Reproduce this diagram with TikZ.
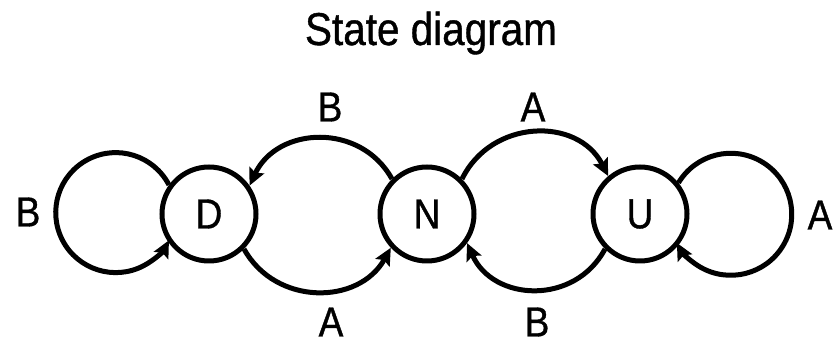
\documentclass[tikz,border=0pt]{standalone}
\usepackage{fontspec}
\setmainfont{Liberation Sans}[FakeStretch=0.88, FakeBold=0.9]
\usetikzlibrary{arrows.meta}
\tikzset{
  state/.style={draw, circle, minimum size=94pt, inner sep=0pt, line width=5pt, font=\fontsize{42}{42}\selectfont},
  lbl/.style={inner sep=0pt, anchor=center, font=\fontsize{42}{42}\selectfont},
  edge/.style={line width=5pt, -{Stealth[length=17pt,width=16pt,inset=3pt]}}
}
\begin{document}
\begin{tikzpicture}[x=1pt,y=1pt]
\useasboundingbox (0,0) rectangle (835,344);
\node[state] (D) at (209,130) {D};
\node[state] (N) at (427,130) {N};
\node[state] (U) at (640,130) {U};
\node[inner sep=0pt, anchor=base, font=\fontsize{46}{46}\selectfont] (title) at (431,299) {State diagram};
\node[lbl] (lB) at (28,132) {B};
\node[lbl] (rA) at (820,129) {A};
\node[lbl] (tB) at (330,237) {B};
\node[lbl] (tA) at (533,237) {A};
\node[lbl] (bA) at (331,22) {A};
\node[lbl] (bB) at (537,22) {B};
% self loops
\draw[edge] (D.144) arc[start angle=27.5, end angle=332.5, radius=60];
\draw[edge] (U.39) arc[start angle=149, end angle=-152, radius=61];
% arcs
\draw[edge] (N.135) to[out=119, in=65, looseness=1.17] (D.35);
\draw[edge] (N.45) to[out=64, in=117, looseness=1.17] (U.130);
\draw[edge] (D.-45) to[out=-61, in=241, looseness=1.14] (N.-137);
\draw[edge] (U.-135) to[out=242, in=294, looseness=1.19] (N.-36);
\end{tikzpicture}
\end{document}
